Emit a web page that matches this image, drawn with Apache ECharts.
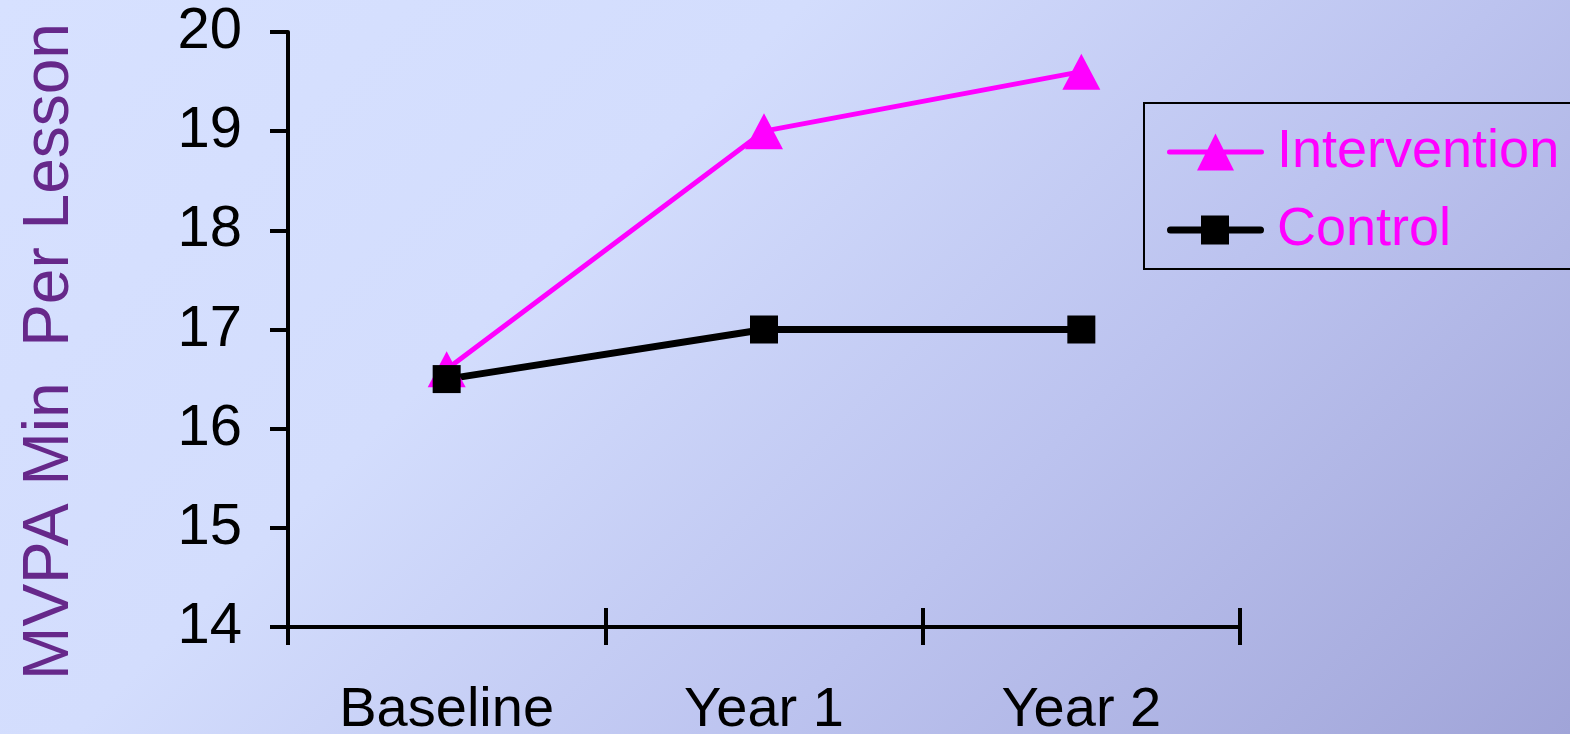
<!DOCTYPE html>
<html>
<head>
<meta charset="utf-8">
<script src="https://cdn.jsdelivr.net/npm/echarts@6/dist/echarts.min.js"></script>
<style>
  html, body { margin: 0; padding: 0; }
  #chart {
    width: 1570px; height: 734px;
    background: linear-gradient(135deg, #d7e1ff 0%, #d3ddfd 35%, #bcc3ef 65%, #a0a4d8 100%);
  }
</style>
</head>
<body>
<div id="chart"></div>
<script>
// Moderate-to-vigorous physical activity minutes per lesson
const categories = ['Baseline', 'Year 1', 'Year 2'];
const interventionValues = [16.6, 19.0, 19.6];
const controlValues = [16.5, 17.0, 17.0];
const yTicks = { min: 14, max: 20, interval: 1 };

const FONT = '"Liberation Sans", Arial, sans-serif';

// Legend icons: a round-capped line segment with the series marker in the middle
const triangleIcon = 'path://M2.5,16 L94.5,16 A2.5,2.5 0 0 1 94.5,21 L2.5,21 A2.5,2.5 0 0 1 2.5,16 Z M48.5,0 L67,37 L30,37 Z';
const squareIcon = 'path://M3.5,11 L93.5,11 A3.5,3.5 0 0 1 93.5,18 L3.5,18 A3.5,3.5 0 0 1 3.5,11 Z M34,0 L62,0 L62,29 L34,29 Z';

const chart = echarts.init(document.getElementById('chart'), null, { renderer: 'canvas' });

chart.setOption({
  animation: false,
  textStyle: { fontFamily: FONT },
  grid: { left: 288, right: 330, top: 32, bottom: 107, containLabel: false, outerBoundsMode: 'none' },
  legend: {
    orient: 'vertical',
    left: 1144,
    top: 103,
    padding: [19, 220, 9, 23],
    borderColor: '#000',
    borderWidth: 2,
    itemWidth: 97,
    itemHeight: 37,
    itemGap: 18,
    symbolKeepAspect: true,
    itemStyle: { borderWidth: 0 },
    textStyle: { color: '#ff00ff', fontSize: 54, fontFamily: FONT, lineHeight: 60, padding: [0, 0, 0, 8] },
    data: [
      { name: 'Intervention', icon: triangleIcon },
      { name: 'Control', icon: squareIcon }
    ]
  },
  xAxis: [{
    type: 'category',
    data: categories,
    boundaryGap: true,
    axisLine: { lineStyle: { color: '#000', width: 4 } },
    axisTick: { show: true, length: 18, lineStyle: { color: '#000', width: 4 } },
    axisLabel: { color: '#000', fontSize: 56, margin: 56, fontFamily: FONT }
  }, {
    type: 'category',
    data: categories,
    position: 'bottom',
    boundaryGap: true,
    axisLine: { show: false },
    axisTick: { show: true, inside: true, length: 19, lineStyle: { color: '#000', width: 4 } },
    axisLabel: { show: false }
  }],
  yAxis: {
    type: 'value',
    min: yTicks.min,
    max: yTicks.max,
    interval: yTicks.interval,
    name: 'MVPA Min  Per Lesson',
    nameLocation: 'middle',
    nameRotate: 90,
    nameGap: 206,
    nameTextStyle: {
      color: '#66288a', fontSize: 64, fontFamily: FONT,
      padding: [0, 44, 0, 0],
      textShadowColor: 'rgba(60,40,90,0.35)', textShadowOffsetX: 1, textShadowOffsetY: 1
    },
    axisLine: { show: true, lineStyle: { color: '#000', width: 4 } },
    axisTick: { show: true, length: 18, lineStyle: { color: '#000', width: 4 } },
    axisLabel: { color: '#000', fontSize: 58, margin: 46, fontFamily: FONT },
    splitLine: { show: false }
  },
  series: [{
    name: 'Intervention',
    type: 'line',
    data: interventionValues,
    symbol: 'triangle',
    symbolSize: [38, 36],
    itemStyle: { color: '#ff00ff' },
    lineStyle: { color: '#ff00ff', width: 5 }
  }, {
    name: 'Control',
    type: 'line',
    data: controlValues,
    symbol: 'rect',
    symbolSize: 28,
    itemStyle: { color: '#000' },
    lineStyle: { color: '#000', width: 7 }
  }]
});
</script>
</body>
</html>
